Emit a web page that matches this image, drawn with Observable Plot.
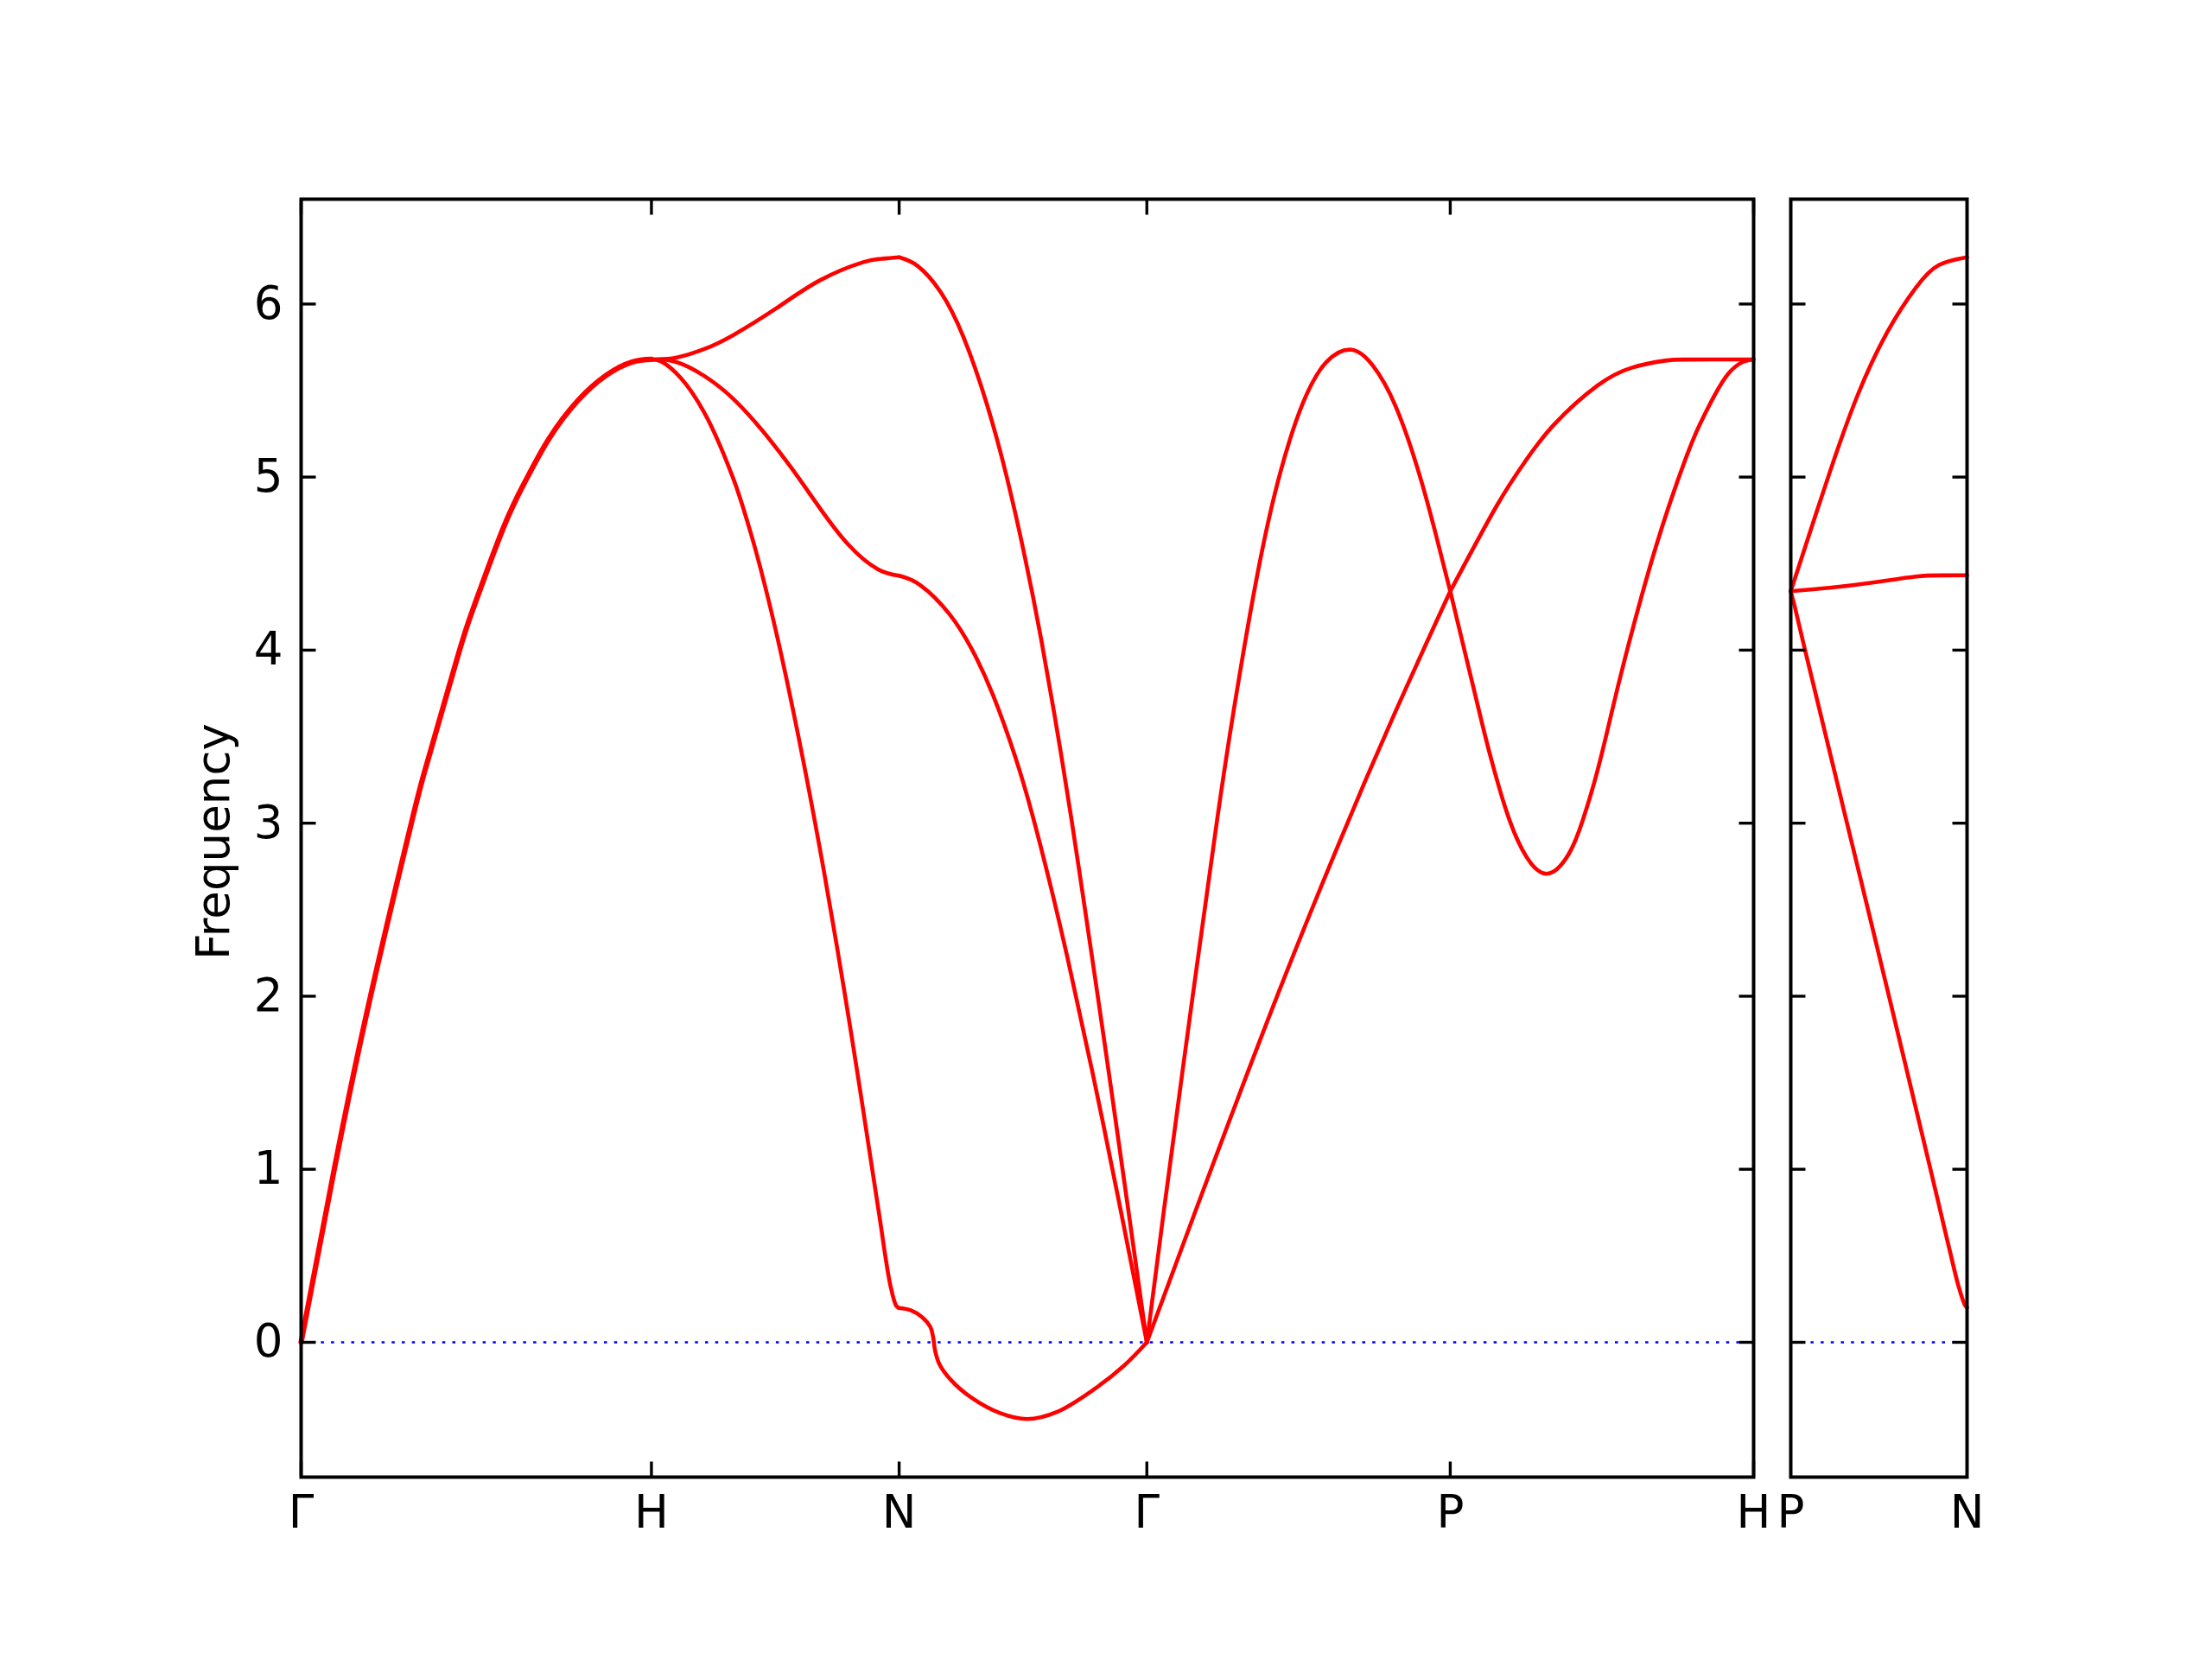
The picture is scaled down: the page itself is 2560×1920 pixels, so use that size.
<!DOCTYPE html>
<html><head><meta charset="utf-8">
<script src="https://cdn.jsdelivr.net/npm/d3@7"></script>
<script src="https://cdn.jsdelivr.net/npm/@observablehq/plot@0.6"></script>
<style>
html,body{margin:0;padding:0;background:#fff;}
#chart{position:relative;width:2560px;height:1920px;background:#fff;overflow:hidden;}
#chart svg{position:absolute;top:0;}
</style></head><body><div id="chart"></div>
<script>
// ---- tick positions and labels ----
const pathTicks = [0, 1, 1.7071, 2.4142, 3.2803, 4.1463];
const pathLabels = ["Γ", "H", "N", "Γ", "P", "H"];
const sideTicks = [0, 0.5];
const sideLabels = ["P", "N"];
const freqTicks = [0, 1, 2, 3, 4, 5, 6];
const freqDomain = [-0.779, 6.606];
const yTitle = "Frequency";

// ---- Γ–H (all three branches nearly degenerate) ----
const GH_x = [0, 0.0946, 0.197, 0.317, 0.362, 0.448, 0.493, 0.576, 0.641, 0.707, 0.789, 0.872, 0.945, 1.0];
const GH_f = [0, 1.0, 1.99, 3.02, 3.365, 3.97, 4.25, 4.70, 4.98, 5.22, 5.44, 5.59, 5.665, 5.68];

// ---- H–N ----
const HN_up_x = [1.0, 1.07, 1.151, 1.233, 1.357, 1.480, 1.603, 1.66, 1.7071];
const HN_up_f = [5.68, 5.69, 5.74, 5.82, 5.976, 6.136, 6.241, 6.262, 6.27];
const HN_mid_x = [1.0, 1.069, 1.151, 1.233, 1.316, 1.398, 1.480, 1.562, 1.645, 1.7071];
const HN_mid_f = [5.68, 5.666, 5.584, 5.453, 5.27, 5.057, 4.823, 4.61, 4.469, 4.43];
const HN_low_x = [1.0, 1.027, 1.085, 1.151, 1.233, 1.283, 1.324, 1.365, 1.422, 1.480, 1.529, 1.562, 1.595, 1.649, 1.682, 1.699, 1.7071];
const HN_low_f = [5.68, 5.669, 5.57, 5.372, 4.995, 4.68, 4.373, 4.024, 3.477, 2.862, 2.294, 1.888, 1.466, 0.753, 0.33, 0.21, 0.198];

// ---- N–Γ ----
const NG_up_x = [1.7071, 1.760, 1.826, 1.891, 1.957, 2.014, 2.064, 2.113, 2.171, 2.220, 2.269, 2.311, 2.360, 2.4142];
const NG_up_f = [6.27, 6.22, 6.068, 5.808, 5.425, 5.003, 4.558, 4.058, 3.379, 2.742, 2.071, 1.483, 0.783, 0];
const NG_mid_x = [1.7071, 1.767, 1.850, 1.916, 1.975, 2.039, 2.089, 2.138, 2.188, 2.262, 2.338, 2.4142];
const NG_mid_f = [4.43, 4.376, 4.21, 4.0, 3.74, 3.38, 3.036, 2.649, 2.219, 1.531, 0.779, 0];
const NG_low_x = [1.7071, 1.740, 1.773, 1.796, 1.804, 1.810, 1.822, 1.855, 1.912, 1.995, 2.073, 2.159, 2.266, 2.349, 2.4142];
const NG_low_f = [0.198, 0.185, 0.145, 0.09, 0.031, -0.05, -0.126, -0.218, -0.318, -0.409, -0.443, -0.401, -0.268, -0.135, 0];

// ---- Γ–P ----
const GP_steep_x = [2.4142, 2.463, 2.545, 2.615, 2.664, 2.730, 2.795, 2.861, 2.927, 2.998, 3.059, 3.124, 3.190, 3.239, 3.2803];
const GP_steep_f = [0, 0.764, 2.0, 3.022, 3.674, 4.44, 5.025, 5.434, 5.665, 5.736, 5.645, 5.411, 5.03, 4.67, 4.34];
const GP_slow_x = [2.4142, 2.554, 2.786, 2.960, 3.042, 3.120, 3.207, 3.2803];
const GP_slow_f = [0, 0.764, 2.0, 2.87, 3.265, 3.627, 4.017, 4.34];

// ---- P–H ----
const PH_slow_x = [3.2803, 3.412, 3.494, 3.576, 3.700, 3.800, 3.894, 3.952, 4.050, 4.1463];
const PH_slow_f = [4.34, 4.831, 5.09, 5.302, 5.528, 5.633, 5.673, 5.679, 5.68, 5.68];
const PH_steep_x = [3.2803, 3.318, 3.368, 3.396, 3.437, 3.486, 3.552, 3.618, 3.659, 3.700, 3.741, 3.782, 3.867, 3.952, 3.993, 4.034, 4.075, 4.116, 4.1463];
const PH_steep_f = [4.34, 4.023, 3.603, 3.379, 3.092, 2.847, 2.708, 2.82, 3.02, 3.299, 3.639, 3.975, 4.595, 5.105, 5.305, 5.469, 5.60, 5.666, 5.68];

// ---- side panel P–N ----
const PN_up_x = [0, 0.0686, 0.126, 0.191, 0.273, 0.355, 0.42, 0.5];
const PN_up_f = [4.34, 4.77, 5.12, 5.48, 5.835, 6.095, 6.225, 6.27];
const PN_mid_x = [0, 0.11, 0.232, 0.355, 0.43, 0.5];
const PN_mid_f = [4.34, 4.36, 4.39, 4.425, 4.432, 4.433];
const PN_low_x = [0, 0.011, 0.039, 0.159, 0.278, 0.396, 0.42, 0.4526, 0.477, 0.4934, 0.5];
const PN_low_f = [4.34, 4.254, 4.013, 3.005, 2.005, 1.002, 0.796, 0.516, 0.316, 0.218, 0.2];

function rows(list) {
  return list.flatMap(([id, xs, fs]) => xs.map((x, i) => ({id, x, f: fs[i]})));
}
const ghRows = rows([["GH", GH_x, GH_f]]);
const smoothRows = rows([
  ["HNu", HN_up_x, HN_up_f], ["HNm", HN_mid_x, HN_mid_f],
  ["NGu", NG_up_x, NG_up_f], ["NGm", NG_mid_x, NG_mid_f],
  ["GPs", GP_steep_x, GP_steep_f], ["GPw", GP_slow_x, GP_slow_f],
  ["PHw", PH_slow_x, PH_slow_f], ["PHs", PH_steep_x, PH_steep_f]
]);
const sharpRows = rows([["HNl", HN_low_x, HN_low_f], ["NGl", NG_low_x, NG_low_f]]);
const sideSmooth = rows([["u", PN_up_x, PN_up_f], ["m", PN_mid_x, PN_mid_f]]);
const sideSharp = rows([["l", PN_low_x, PN_low_f]]);

const RED = "#ff0000";
const FONT = 53;
const TICK = -17.5;
const LW = 4.6;
const style = {fontFamily: "DejaVu Sans", fontSize: FONT + "px", color: "black", background: "transparent", overflow: "visible"};
const mainLabel = new Map(pathTicks.map((t, i) => [t, pathLabels[i]]));
const sideLabel = new Map(sideTicks.map((t, i) => [t, sideLabels[i]]));

const common = {height: 1920, marginTop: 230, marginBottom: 211, style,
  y: {domain: freqDomain}};

const main = Plot.plot({
  ...common,
  width: 2050, marginLeft: 348, marginRight: 21,
  x: {domain: [0, pathTicks[pathTicks.length - 1]]},
  marks: [
    Plot.ruleY([0], {stroke: "blue", strokeWidth: 2.6, strokeDasharray: "3.5,8.2"}),
    Plot.line(ghRows, {x: "x", y: "f", z: "id", stroke: RED, strokeWidth: 6.2, curve: "natural"}),
    Plot.line(smoothRows, {x: "x", y: "f", z: "id", stroke: RED, strokeWidth: LW, curve: "natural"}),
    Plot.line(sharpRows, {x: "x", y: "f", z: "id", stroke: RED, strokeWidth: LW, curve: "catmull-rom"}),
    Plot.axisY({anchor: "left", ticks: freqTicks, tickSize: 0, tickPadding: 21, label: null, fontSize: FONT}),
    Plot.axisY({anchor: "left", ticks: freqTicks, tickSize: TICK, tickFormat: () => "", label: null, strokeWidth: 3.4}),
    Plot.axisY({anchor: "right", ticks: freqTicks, tickSize: TICK, tickFormat: () => "", label: null, strokeWidth: 3.4}),
    Plot.axisX({anchor: "bottom", ticks: pathTicks, tickSize: 0, tickPadding: 21, tickFormat: d => mainLabel.get(d), label: null, fontSize: FONT}),
    Plot.axisX({anchor: "bottom", ticks: pathTicks, tickSize: TICK, tickFormat: () => "", label: null, strokeWidth: 3.4}),
    Plot.axisX({anchor: "top", ticks: pathTicks, tickSize: TICK, tickFormat: () => "", label: null, strokeWidth: 3.4}),
    Plot.text([yTitle], {frameAnchor: "left", dx: -100, dy: 4, rotate: -90, fontSize: FONT, textAnchor: "middle", lineAnchor: "middle", fill: "black"}),
    Plot.frame({stroke: "black", strokeWidth: 4})
  ]
});
main.style.left = "0px";

const side = Plot.plot({
  ...common,
  width: 510, marginLeft: 22, marginRight: 284,
  x: {domain: [sideTicks[0], sideTicks[1]]},
  marks: [
    Plot.ruleY([0], {stroke: "blue", strokeWidth: 2.6, strokeDasharray: "3.5,8.2"}),
    Plot.line(sideSmooth, {x: "x", y: "f", z: "id", stroke: RED, strokeWidth: LW, curve: "natural"}),
    Plot.line(sideSharp, {x: "x", y: "f", z: "id", stroke: RED, strokeWidth: LW, curve: "catmull-rom"}),
    Plot.axisY({anchor: "left", ticks: freqTicks, tickSize: TICK, tickFormat: () => "", label: null, strokeWidth: 3.4}),
    Plot.axisY({anchor: "right", ticks: freqTicks, tickSize: TICK, tickFormat: () => "", label: null, strokeWidth: 3.4}),
    Plot.axisX({anchor: "bottom", ticks: sideTicks, tickSize: 0, tickPadding: 21, tickFormat: d => sideLabel.get(d), label: null, fontSize: FONT}),
    Plot.frame({stroke: "black", strokeWidth: 4})
  ]
});
side.style.left = "2050px";

const chart = document.getElementById("chart");
chart.append(main, side);
</script></body></html>
